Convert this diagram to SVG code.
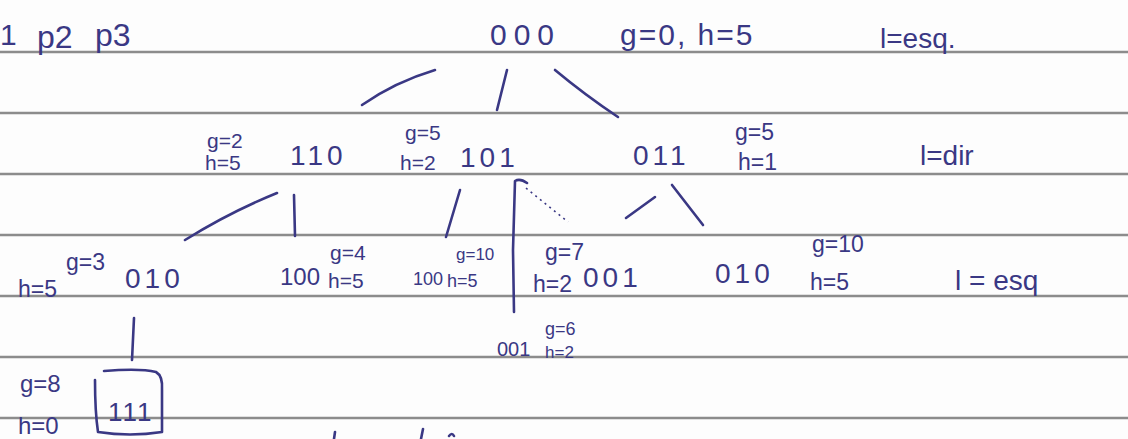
<svg xmlns="http://www.w3.org/2000/svg" width="1128" height="439" viewBox="0 0 1128 439">
<style>
.rule{stroke:#8c8c8c;stroke-width:2.5}
text{font-family:"Liberation Sans","DejaVu Sans",sans-serif;fill:#3a3884}
.ink{stroke:#3a3884;stroke-width:2.6;fill:none;stroke-linecap:round;stroke-linejoin:round}
.dot{stroke:#3a3884;stroke-width:1.6;fill:none;stroke-dasharray:2 4}
.big{font-size:28px;letter-spacing:4px}
.sm{font-size:21px}
</style>
<rect width="1128" height="439" fill="#fdfdfd"/>
<g id="paper">
<line class="rule" x1="0" y1="52" x2="1128" y2="52"/>
<line class="rule" x1="0" y1="113" x2="1128" y2="113"/>
<line class="rule" x1="0" y1="174" x2="1128" y2="174"/>
<line class="rule" x1="0" y1="235" x2="1128" y2="235"/>
<line class="rule" x1="0" y1="296" x2="1128" y2="296"/>
<line class="rule" x1="0" y1="357" x2="1128" y2="357"/>
<line class="rule" x1="0" y1="418" x2="1128" y2="418"/>
</g>
<g id="header">
<text x="0" y="45" style="font-size:30px">1</text>
<text x="37" y="48" style="font-size:32px">p2</text>
<text x="95" y="46" style="font-size:32px">p3</text>
</g>
<g id="n000">
<text x="490" y="45" style="font-size:30px;letter-spacing:7px">000</text>
<text x="620" y="45" style="font-size:30px;letter-spacing:2px">g=0, h=5</text>
</g>
<text id="lvl1" x="880" y="48" style="font-size:28px">l=esq.</text>
<g id="n110">
<text class="sm" x="207" y="148">g=2</text>
<text class="sm" x="205" y="170">h=5</text>
<text class="big" x="290" y="165">110</text>
</g>
<g id="n101">
<text class="sm" x="405" y="140">g=5</text>
<text class="sm" x="400" y="170">h=2</text>
<text class="big" x="460" y="167">101</text>
</g>
<g id="n011">
<text class="big" x="633" y="165">011</text>
<text class="sm" x="735" y="140" style="font-size:23px">g=5</text>
<text class="sm" x="738" y="170" style="font-size:23px">h=1</text>
</g>
<text id="lvl2" x="920" y="165" style="font-size:28px">l=dir</text>
<g id="n010a">
<text class="sm" x="66" y="270" style="font-size:23px">g=3</text>
<text class="sm" x="18" y="297" style="font-size:23px">h=5</text>
<text class="big" x="125" y="288">010</text>
</g>
<g id="n100a">
<text x="280" y="285" style="font-size:24px">100</text>
<text class="sm" x="330" y="260">g=4</text>
<text class="sm" x="328" y="288">h=5</text>
</g>
<g id="n100b">
<text x="413" y="285" style="font-size:18px">100</text>
<text x="456" y="260" style="font-size:17px">g=10</text>
<text x="447" y="287" style="font-size:18px">h=5</text>
</g>
<g id="n001a">
<text class="sm" x="545" y="260" style="font-size:23px">g=7</text>
<text class="sm" x="533" y="292" style="font-size:23px">h=2</text>
<text class="big" x="583" y="287">001</text>
</g>
<g id="n010b">
<text class="big" x="715" y="283">010</text>
<text class="sm" x="812" y="252" style="font-size:23px">g=10</text>
<text class="sm" x="810" y="290" style="font-size:23px">h=5</text>
</g>
<text id="lvl3" x="955" y="290" style="font-size:28px">l = esq</text>
<g id="n001b">
<text x="497" y="356" style="font-size:20px">001</text>
<text x="545" y="335" style="font-size:18px">g=6</text>
<text x="545" y="358" style="font-size:17px">h=2</text>
</g>
<g id="n111">
<text x="20" y="392" style="font-size:24px">g=8</text>
<text x="18" y="434" style="font-size:24px">h=0</text>
<path class="ink" d="M104 371 Q140 368 156 372 Q163 376 162 390 L162 432 Q130 437 98 432 Q95 412 95 380"/>
<text x="108" y="421" style="font-size:26px;letter-spacing:2px">111</text>
</g>
<g id="connectors">
<path class="ink" d="M362 105 Q395 82 435 70"/>
<path class="ink" d="M507 70 L497 110"/>
<path class="ink" d="M555 70 Q585 95 618 117"/>
<path class="ink" d="M185 240 Q230 212 277 193"/>
<path class="ink" d="M294 195 L295 236"/>
<path class="ink" d="M460 190 L446 237"/>
<path class="ink" d="M527 183 Q520 178 515 181 L513 250 L514 312"/>
<path class="dot" d="M526 188 L568 222"/>
<path class="ink" d="M626 218 L655 197"/>
<path class="ink" d="M672 185 L703 225"/>
<path class="ink" d="M134 318 L132 360"/>
</g>
<g id="cutoff">
<path class="ink" d="M335 432 L334 439"/>
<path class="ink" d="M423 429 L421 439"/>
<path class="ink" d="M449 436 Q452 432 454 436"/>
</g>
</svg>
